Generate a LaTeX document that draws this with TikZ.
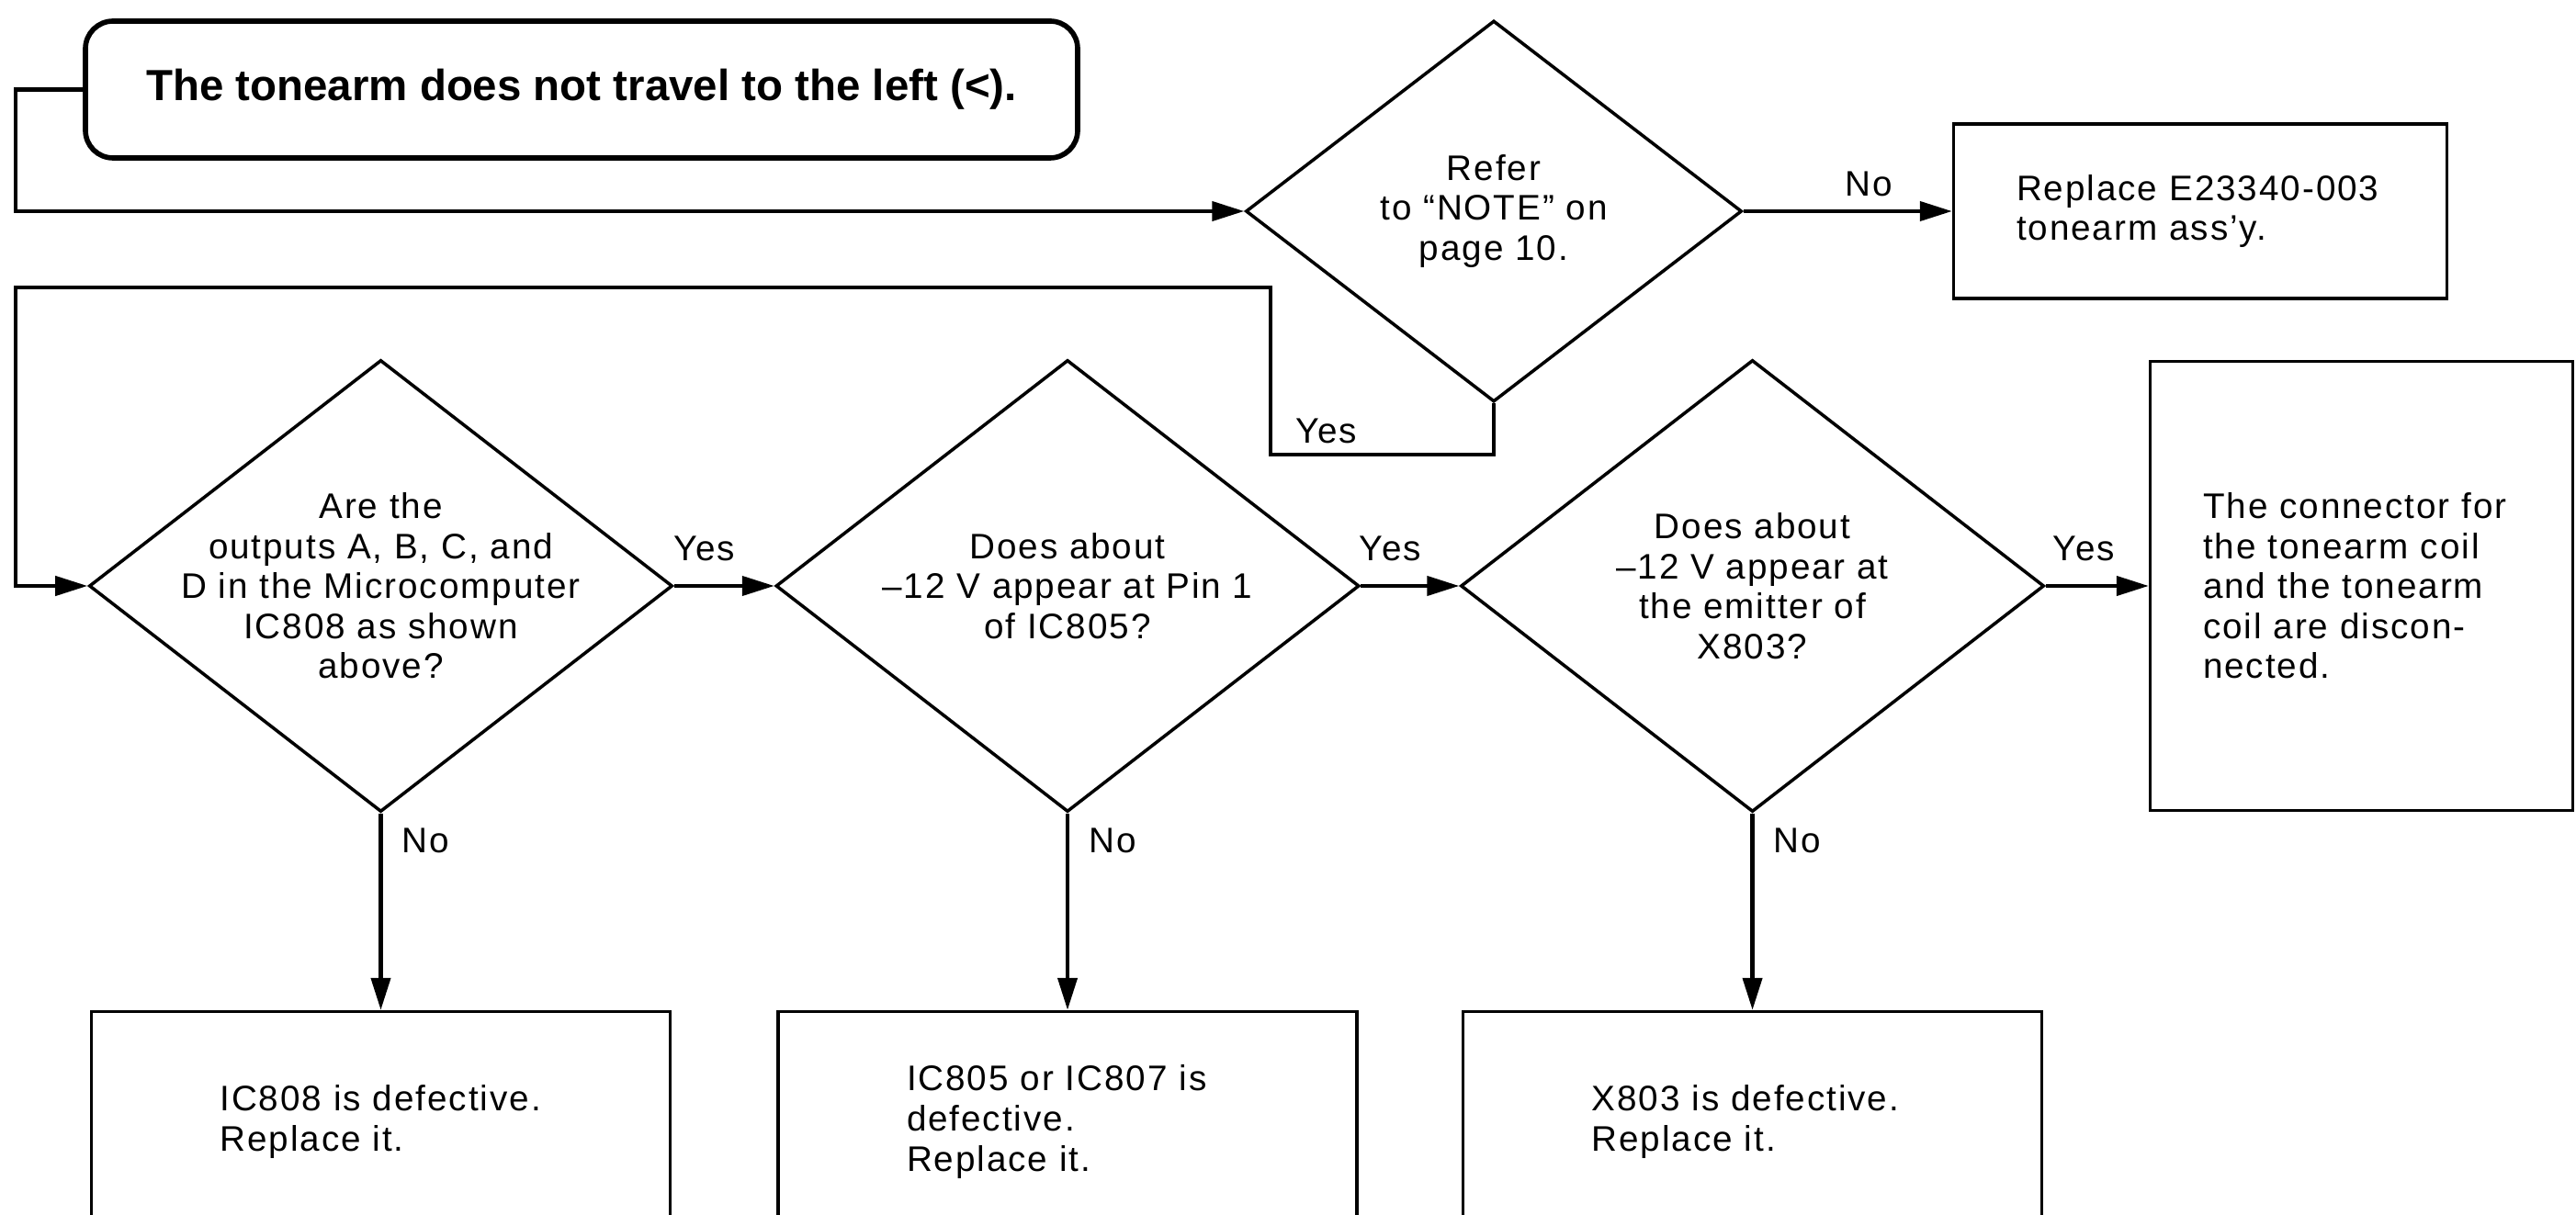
\documentclass[tikz,border=0pt]{standalone}
\usepackage{fontspec}
\setmainfont{Liberation Sans}
\newfontfamily\bodyfont[LetterSpace=5]{Liberation Sans}
\usetikzlibrary{shapes.geometric,arrows.meta,positioning}
\newcommand{\qfont}{\bodyfont\fontsize{11}{12.4}\selectfont}
\newcommand{\headfont}{\fontsize{13.5}{16}\selectfont\bfseries}

\begin{document}
\begin{tikzpicture}[
  node distance=1.1cm and 1.1cm,
  startbox/.style={rectangle, rounded corners=0.3cm, draw, line width=1.6pt,
    minimum width=10.8cm, minimum height=1.49cm, font=\headfont},
  decision/.style={diamond, draw, line width=1pt, inner sep=0pt,
    minimum width=6.35cm, minimum height=4.92cm},
  qtext/.style={align=center, font=\qfont},
  box/.style={rectangle, draw, line width=1pt, align=left, font=\qfont},
  resbox/.style={box, minimum width=6.3cm, minimum height=2.4cm, text width=3.5cm},
  lbl/.style={font=\qfont, inner sep=1pt},
  arr/.style={-{Triangle[length=3.5mm, width=2.1mm]}, line width=1.2pt}
]
\useasboundingbox (0,0) rectangle (28.04,-13.23);
\clip (0,0) rectangle (28.04,-13.23);
\coordinate (rail) at (0.17,0);
\coordinate (loop) at (13.83,-3.13);

% top row
\node[startbox] (start) at (6.33,-0.975) {The tonearm does not travel to the left (<).};
\node[decision, minimum width=5.4cm, minimum height=4.15cm] (note) at (16.26,-2.30) {};
\node[qtext] (notetxt) at (note) {Refer\\to “NOTE” on\\page 10.};
\node[box, right=2.27cm of note, minimum width=5.37cm, minimum height=1.9cm,
  text width=4cm] (arm) {Replace E23340-003\\tonearm ass’y.};

% middle row
\node[decision] (ic808q) at (4.145,-6.38) {};
\node[qtext] (ic808txt) at (ic808q) {Are the\\outputs A, B, C, and\\D in the Microcomputer\\IC808 as shown\\above?};
\node[decision, right=1.09cm of ic808q] (ic805q) {};
\node[qtext] (ic805txt) at (ic805q) {Does about\\–12 V appear at Pin 1\\of IC805?};
\node[decision, right=1.07cm of ic805q] (x803q) {};
\node[qtext] (x803txt) at (x803q) {Does about\\–12 V appear at\\the emitter of\\X803?};
\node[box, right=1.12cm of x803q, minimum width=4.6cm, minimum height=4.89cm,
  text width=3.45cm] (coil) {The connector for\\the tonearm coil\\and the tonearm\\coil are discon-\\nected.};

% bottom row
\node[resbox, below=2.14cm of ic808q] (ic808r) {IC808 is defective.\\Replace it.};
\node[resbox, below=2.14cm of ic805q] (ic805r) {IC805 or IC807 is\\defective.\\Replace it.};
\node[resbox, below=2.14cm of x803q] (x803r) {X803 is defective.\\Replace it.};

% connectors
\draw[arr] (start.west) -- (rail |- start.west) |- (note.west);
\draw[arr] (note.east) -- node[lbl, above=3pt, pos=0.6] {No} (arm.west);
\draw[arr] (note.south) -- ++(0,-0.56) -| (loop) -- (rail |- loop) |- (ic808q.west);
\node[lbl, anchor=south west] (yesloop) at (14.06,-4.87) {Yes};
\draw[arr] (ic808q.east) -- node[lbl, above=6pt, pos=0.3] {Yes} (ic805q.west);
\draw[arr] (ic805q.east) -- node[lbl, above=6pt, pos=0.3] {Yes} (x803q.west);
\draw[arr] (x803q.east) -- node[lbl, above=6pt, pos=0.37] {Yes} (coil.west);
\draw[arr] (ic808q.south) -- node[lbl, right=5pt, pos=0.14] {No} (ic808r.north);
\draw[arr] (ic805q.south) -- node[lbl, right=5pt, pos=0.14] {No} (ic805r.north);
\draw[arr] (x803q.south) -- node[lbl, right=5pt, pos=0.14] {No} (x803r.north);
\end{tikzpicture}
\end{document}
